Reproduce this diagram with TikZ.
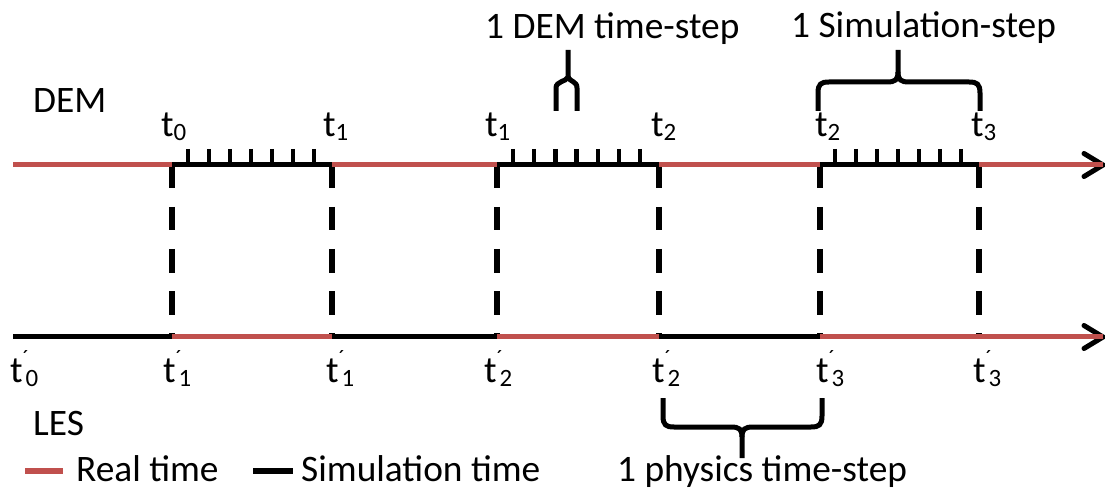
\documentclass[tikz,border=0pt]{standalone}
\usepackage{fontspec}
\setmainfont{Carlito}
\definecolor{realred}{HTML}{C0504D}
\newcommand{\tprm}[1]{t\rlap{\raisebox{17bp}{\fontsize{22}{22}\selectfont ´}}\raisebox{-4bp}{\fontsize{25}{25}\selectfont\kern3bp #1}}
\newcommand{\tsb}[1]{t\raisebox{-4bp}{\fontsize{25}{25}\selectfont #1}}
\tikzset{
  lbl/.style={anchor=base west, inner sep=0pt, font=\fontsize{37.5}{45}\selectfont},
  simline/.style={line width=5bp, black},
  realline/.style={line width=5bp, realred},
  tickmark/.style={line width=4.5bp, black},
  dashv/.style={line width=5.5bp, black, dash pattern=on 23.5bp off 18.5bp},
  bracestroke/.style={line width=5bp, black},
  arrowhd/.style={line width=5bp, black, line cap=round},
}
\begin{document}
\begin{tikzpicture}[x=1bp,y=-1bp]
\useasboundingbox (0,0) rectangle (1105,491);
% coordinates
\foreach \n/\x in {0/13,1/172,2/332,3/497,4/659,5/820,6/979,7/1101}{
  \coordinate (a\n) at (\x,165);
  \coordinate (b\n) at (\x,337);
}
\coordinate (atip) at (1103,165);
\coordinate (btip) at (1103,337);
% dashed verticals
\foreach \n in {1,...,6}{\draw[dashv] (a\n) -- (b\n);}
% ticks on simulation segments
\foreach \s in {188,209,230,251,272,293,314}{\coordinate (tk) at (\s,149); \draw[tickmark] (tk) -- (tk |- a1);}
\foreach \s in {513,534.2,555.4,576.6,597.8,619,640.2}{\coordinate (tk) at (\s,149); \draw[tickmark] (tk) -- (tk |- a1);}
\foreach \s in {835,856,877,898,919,940,961}{\coordinate (tk) at (\s,149); \draw[tickmark] (tk) -- (tk |- a1);}
% arrow heads
\draw[arrowhd] (1084,153.5) -- (atip) -- (1084,176.5);
\draw[arrowhd] (1084,325.5) -- (btip) -- (1084,348.5);
% DEM line
\draw[realline] (a0) -- (a1);
\draw[simline] (a1) -- (a2);
\draw[realline] (a2) -- (a3);
\draw[simline] (a3) -- (a4);
\draw[realline] (a4) -- (a5);
\draw[simline] (a5) -- (a6);
\draw[realline] (a6) -- (atip);
% LES line
\draw[simline] (b0) -- (b1);
\draw[realline] (b1) -- (b2);
\draw[simline] (b2) -- (b3);
\draw[realline] (b3) -- (b4);
\draw[simline] (b4) -- (b5);
\draw[realline] (b5) -- (btip);
% DEM time-step bracket
\draw[bracestroke] (556,111) -- (556,88) .. controls (556,81) and (566,82) .. (568,77) -- (568,50);
\draw[bracestroke] (577,111) -- (577,88) .. controls (577,81) and (570,82) .. (568,77);
% Simulation-step brace
\draw[bracestroke] (818,111) -- (818,93) .. controls (818,84) and (821,82) .. (829,82) -- (887,82) .. controls (895,82) and (898,80) .. (898,72) -- (898,50);
\draw[bracestroke] (980,111) -- (980,93) .. controls (980,84) and (977,82) .. (969,82) -- (909,82) .. controls (901,82) and (898,80) .. (898,72);
% physics time-step brace
\draw[bracestroke] (663,398) -- (663,416) .. controls (663,425) and (666,427) .. (674,427) -- (731,427) .. controls (739,427) and (742,429) .. (742,437) -- (742,458);
\draw[bracestroke] (822,398) -- (822,416) .. controls (822,425) and (819,427) .. (811,427) -- (753,427) .. controls (745,427) and (742,429) .. (742,437);
% legend lines
\coordinate (lr1) at (25,471); \coordinate (lr2) at (63,471);
\coordinate (ls1) at (253,471); \coordinate (ls2) at (293,471);
\draw[line width=6bp, realred] (lr1) -- (lr2);
\draw[line width=6bp, black] (ls1) -- (ls2);
% texts
\node[lbl] (dem) at (33,113) {DEM};
\node[lbl] (les) at (33,435) {LES};
\node[lbl] (demstep) at (485,39) {1 DEM time-step};
\node[lbl] (simstep) at (791,38) {1 Simulation-step};
\node[lbl] (physstep) at (617,481) {1 physics time-step};
\node[lbl] (realt) at (76,481) {Real time};
\node[lbl] (simt) at (301,481) {Simulation time};
% DEM labels
\node[lbl] (la1) at (161,137) {\tsb{0}};
\node[lbl] (la2) at (323,137) {\tsb{1}};
\node[lbl] (la3) at (485,137) {\tsb{1}};
\node[lbl] (la4) at (651,137) {\tsb{2}};
\node[lbl] (la5) at (815,137) {\tsb{2}};
\node[lbl] (la6) at (971,137) {\tsb{3}};
% LES labels
\node[lbl] (lb0) at (10,383) {\tprm{0}};
\node[lbl] (lb1) at (163,383) {\tprm{1}};
\node[lbl] (lb2) at (326,383) {\tprm{1}};
\node[lbl] (lb3) at (484,383) {\tprm{2}};
\node[lbl] (lb4) at (652,383) {\tprm{2}};
\node[lbl] (lb5) at (816,383) {\tprm{3}};
\node[lbl] (lb6) at (973,383) {\tprm{3}};
\end{tikzpicture}
\end{document}
